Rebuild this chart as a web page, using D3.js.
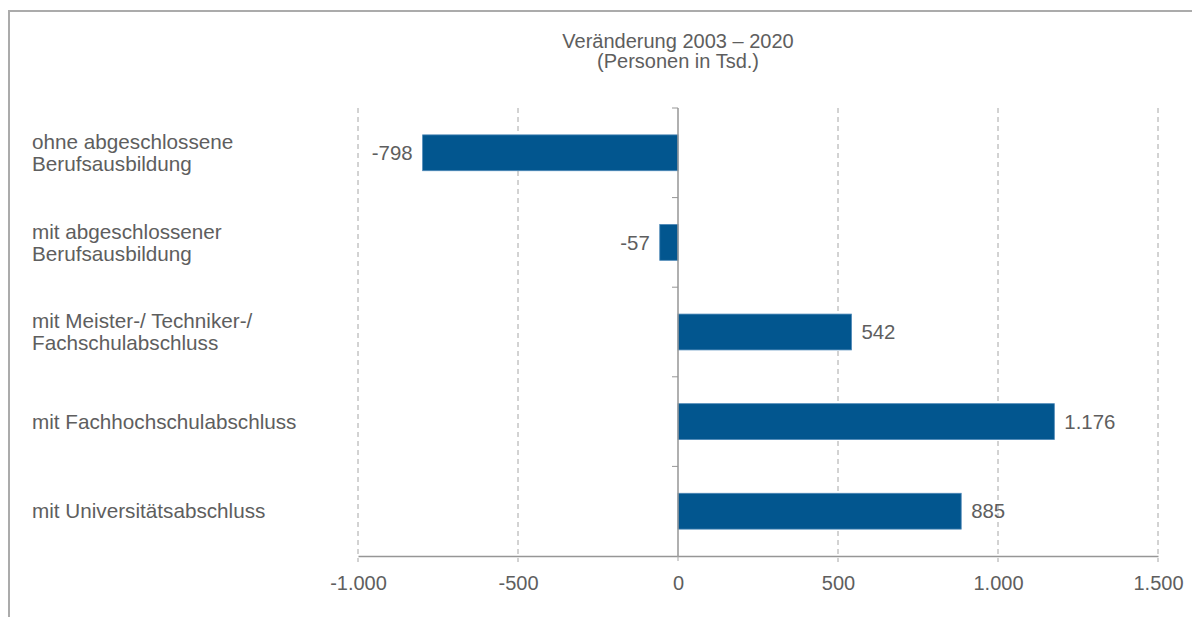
<!DOCTYPE html>
<html>
<head>
<meta charset="utf-8">
<script src="https://cdnjs.cloudflare.com/ajax/libs/d3/7.8.5/d3.min.js"></script>
<style>
  body { margin: 0; background: #fff; }
  text { font-family: "Liberation Sans", Arial, sans-serif; fill: #5e5e5e; }
</style>
</head>
<body>
<script>
// data
var categories = [
  ["ohne abgeschlossene", "Berufsausbildung"],
  ["mit abgeschlossener", "Berufsausbildung"],
  ["mit Meister-/ Techniker-/", "Fachschulabschluss"],
  ["mit Fachhochschulabschluss"],
  ["mit Universitätsabschluss"]
];
var values = [-798, -57, 542, 1176, 885];
var xTicks = [-1000, -500, 0, 500, 1000, 1500];
var titleLines = ["Veränderung 2003 – 2020", "(Personen in Tsd.)"];

var svgWidth = 1192;
var svgHeight = 617;

// plot area
var margin = { top: 108, right: 34, bottom: 61, left: 358 };
var chartWidth = svgWidth - margin.left - margin.right;
var chartHeight = svgHeight - margin.top - margin.bottom;

// German number format
var de = d3.formatLocale({ decimal: ",", thousands: ".", grouping: [3], currency: ["", " €"], minus: "-" });
var fmt = de.format(",d");

var svg = d3.select("body")
  .append("svg")
  .attr("width", svgWidth)
  .attr("height", svgHeight);

// frame (only top and left visible)
svg.append("line")
  .attr("x1", 9).attr("x2", svgWidth).attr("y1", 11).attr("y2", 11)
  .attr("stroke", "#ababab").attr("stroke-width", 2);
svg.append("line")
  .attr("x1", 9).attr("x2", 9).attr("y1", 10).attr("y2", svgHeight)
  .attr("stroke", "#ababab").attr("stroke-width", 2);

// title
svg.append("text")
  .attr("x", 678)
  .attr("text-anchor", "middle")
  .style("font-size", "20px")
  .selectAll("tspan")
  .data(titleLines)
  .join("tspan")
  .attr("x", 678)
  .attr("y", function(d, i) { return 48 + i * 20; })
  .text(function(d) { return d; });

var chartGroup = svg.append("g")
  .attr("transform", `translate(${margin.left}, ${margin.top})`);

var xScale = d3.scaleLinear()
  .domain([-1000, 1500])
  .range([0, chartWidth]);

var yScale = d3.scaleBand()
  .domain(d3.range(values.length))
  .range([0, chartHeight])
  .paddingInner(0.6)
  .paddingOuter(0.3);

// dashed gridlines (extend below the axis as ticks)
chartGroup.append("g")
  .selectAll("line")
  .data(xTicks.filter(function(d) { return d !== 0; }))
  .join("line")
  .attr("x1", function(d) { return xScale(d); })
  .attr("x2", function(d) { return xScale(d); })
  .attr("y1", 0)
  .attr("y2", chartHeight + 6)
  .attr("stroke", "#a6a6a6")
  .attr("stroke-width", 1)
  .attr("stroke-dasharray", "5,4");

// x axis
var xAxis = d3.axisBottom(xScale)
  .tickValues(xTicks)
  .tickSize(0)
  .tickPadding(20)
  .tickFormat(fmt);

var xAxisG = chartGroup.append("g")
  .attr("transform", `translate(0, ${chartHeight})`)
  .call(xAxis);
xAxisG.select(".domain")
  .attr("stroke", "#969696")
  .attr("stroke-width", 1.5);
xAxisG.selectAll("text")
  .style("font-size", "20px")
  .style("font-family", "'Liberation Sans', Arial, sans-serif")
  .attr("fill", "#5e5e5e");
xAxisG.append("line")
  .attr("x1", xScale(0)).attr("x2", xScale(0))
  .attr("y1", 0).attr("y2", 6)
  .attr("stroke", "#a6a6a6")
  .attr("stroke-dasharray", "5,4");

// bars
chartGroup.append("g")
  .selectAll("rect")
  .data(values)
  .join("rect")
  .attr("x", function(d) { return xScale(Math.min(0, d)); })
  .attr("y", function(d, i) { return yScale(i); })
  .attr("width", function(d) { return Math.abs(xScale(d) - xScale(0)); })
  .attr("height", yScale.bandwidth())
  .attr("fill", "#02568f")
  .attr("stroke", "#4a86b6")
  .attr("stroke-width", 0.8);

// zero line with category ticks
var step = yScale.step();
var boundaries = d3.range(values.length).map(function(i) {
  return i === 0 ? 0 : yScale(i) - yScale.paddingInner() * step / 2;
});
chartGroup.append("line")
  .attr("x1", xScale(0)).attr("x2", xScale(0))
  .attr("y1", 0).attr("y2", chartHeight)
  .attr("stroke", "#969696")
  .attr("stroke-width", 1.5);
chartGroup.append("g")
  .selectAll("line")
  .data(boundaries)
  .join("line")
  .attr("x1", xScale(0) - 6).attr("x2", xScale(0))
  .attr("y1", function(d) { return d; })
  .attr("y2", function(d) { return d; })
  .attr("stroke", "#969696")
  .attr("stroke-width", 1);

// value labels
chartGroup.append("g")
  .selectAll("text")
  .data(values)
  .join("text")
  .attr("x", function(d) { return d < 0 ? xScale(d) - 10 : xScale(d) + 10; })
  .attr("y", function(d, i) { return yScale(i) + yScale.bandwidth() / 2; })
  .attr("dy", "0.35em")
  .attr("text-anchor", function(d) { return d < 0 ? "end" : "start"; })
  .style("font-size", "20.4px")
  .text(function(d) { return fmt(d); });

// category labels
var catText = svg.append("g")
  .selectAll("text")
  .data(categories)
  .join("text")
  .style("font-size", "20.7px");
catText.selectAll("tspan")
  .data(function(d, i) {
    return d.map(function(line, j) { return { line: line, j: j, n: d.length, i: i }; });
  })
  .join("tspan")
  .attr("x", 32)
  .attr("y", function(d) {
    var c = margin.top + yScale(d.i) + yScale.bandwidth() / 2;
    return c + (d.j - (d.n - 1) / 2) * 22;
  })
  .attr("dy", "0.35em")
  .text(function(d) { return d.line; });
</script>
</body>
</html>
